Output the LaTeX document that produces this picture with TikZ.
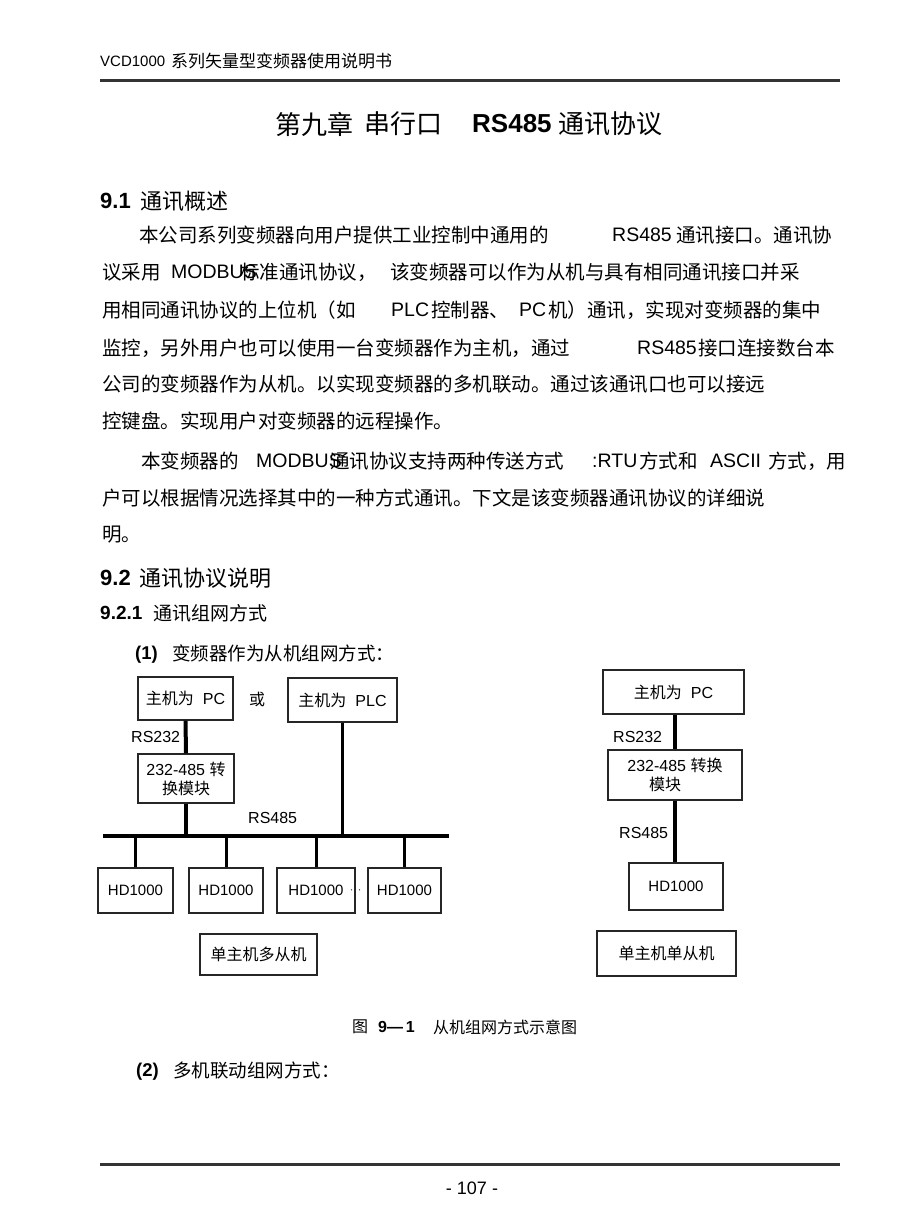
\documentclass[tikz,border=0pt]{standalone}
\usepackage{fontspec}
\setmainfont{Liberation Sans}
\newfontfamily\zh{Noto Sans CJK SC}

\newcommand\bodysize{\fontsize{19.5}{22}\selectfont}
\newcommand\boxsize{\fontsize{16}{19}\selectfont}

\begin{document}
\begin{tikzpicture}[
    x=1pt, y=-1pt,
    txt/.style={anchor=west, inner sep=0pt, font=\bodysize},
    zhtxt/.style={txt, font={\bodysize\zh}},
    box/.style={draw=black!85, line width=1.2pt, inner sep=0pt, align=center, font=\boxsize},
    hdbox/.style={box, minimum height=45pt, font=\fontsize{15}{18}\selectfont},
    thickline/.style={line width=4pt},
    thinline/.style={line width=2.5pt},
    pagerule/.style={line width=3pt, black!80}
  ]

  % Page and header
  \fill[white] (0,0) rectangle (920,1229);
  \useasboundingbox (0,0) rectangle (920,1229);
  \node[txt, font=\fontsize{15}{18}\selectfont] (hdrA) at (100,61) {VCD1000};
  \node[zhtxt, font={\fontsize{17}{18}\selectfont\zh}] (hdrB) at (171,61) {系列矢量型变频器使用说明书};
  \draw[pagerule] (100,80) -- (840,80);

  % Chapter title
  \node[zhtxt, font={\fontsize{26}{28}\selectfont\zh}] (t1) at (275,124) {第九章};
  \node[zhtxt, font={\fontsize{26}{28}\selectfont\zh}] (t2) at (364,124) {串行口};
  \node[txt, font=\fontsize{26}{28}\selectfont\bfseries] (t3) at (472,124) {RS485};
  \node[zhtxt, font={\fontsize{26}{28}\selectfont\zh}] (t4) at (558,124) {通讯协议};

  % 9.1
  \node[txt, font=\fontsize{22}{24}\selectfont\bfseries] (s1a) at (100,201) {9.1};
  \node[zhtxt, font={\fontsize{22}{24}\selectfont\zh}] (s1b) at (140,201) {通讯概述};

  \node[zhtxt] (l1a) at (139,235) {本公司系列变频器向用户提供工业控制中通用的};
  \node[txt] (l1b) at (612,235) {RS485};
  \node[zhtxt] (l1c) at (676,235) {通讯接口。通讯协};

  \node[zhtxt] (l2a) at (102,272) {议采用};
  \node[txt] (l2b) at (171,272) {MODBUS};
  \node[zhtxt] (l2c) at (240,272) {标准通讯协议，};
  \node[zhtxt] (l2d) at (390,272) {该变频器可以作为从机与具有相同通讯接口并采};

  \node[zhtxt] (l3a) at (102,310) {用相同通讯协议的上位机（如};
  \node[txt] (l3b) at (391,310) {PLC};
  \node[zhtxt] (l3c) at (431,310) {控制器、};
  \node[txt] (l3d) at (519,310) {PC};
  \node[zhtxt] (l3e) at (548,310) {机）通讯，实现对变频器的集中};

  \node[zhtxt] (l4a) at (102,348) {监控，另外用户也可以使用一台变频器作为主机，通过};
  \node[txt] (l4b) at (637,348) {RS485};
  \node[zhtxt] (l4c) at (698,348) {接口连接数台本};

  \node[zhtxt] (l5) at (102,384) {公司的变频器作为从机。以实现变频器的多机联动。通过该通讯口也可以接远};
  \node[zhtxt] (l6) at (102,421) {控键盘。实现用户对变频器的远程操作。};

  \node[zhtxt] (l7a) at (141,461) {本变频器的};
  \node[txt] (l7b) at (256,461) {MODBUS};
  \node[zhtxt] (l7c) at (330,461) {通讯协议支持两种传送方式};
  \node[txt] (l7d) at (592,461) {:RTU};
  \node[zhtxt] (l7e) at (639,461) {方式和};
  \node[txt] (l7f) at (710,461) {ASCII};
  \node[zhtxt] (l7g) at (768,461) {方式，用};

  \node[zhtxt] (l8) at (102,498) {户可以根据情况选择其中的一种方式通讯。下文是该变频器通讯协议的详细说};
  \node[zhtxt] (l9) at (102,535) {明。};

  % 9.2
  \node[txt, font=\fontsize{22}{24}\selectfont\bfseries] (s2a) at (100,578) {9.2};
  \node[zhtxt, font={\fontsize{22}{24}\selectfont\zh}] (s2b) at (139,578) {通讯协议说明};
  \node[txt, font=\fontsize{19}{21}\selectfont\bfseries] (s3a) at (100,613) {9.2.1};
  \node[zhtxt, font={\fontsize{19}{21}\selectfont\zh}] (s3b) at (153,613) {通讯组网方式};
  \node[txt, font=\fontsize{18.5}{21}\selectfont\bfseries] (p1a) at (135,655) {(1)};
  \node[zhtxt, font={\fontsize{18.5}{21}\selectfont\zh}] (p1b) at (172,653) {变频器作为从机组网方式：};

  % Left network: one master, many slaves
  \node[box, minimum width=95pt, minimum height=43pt] (pcL) at (185.5,698.5) {{\zh 主机为}\hspace{9pt}PC};
  \node[txt, font={\boxsize\zh}] (orL) at (249,699) {或};
  \node[box, minimum width=109pt, minimum height=44pt] (plc) at (342.5,700) {{\zh 主机为}\hspace{9pt}PLC};
  \node[box, minimum width=96pt, minimum height=49pt] (modL) at (186,778.5) {232-485 {\zh 转}\\{\zh 换模块}};
  \node[txt, font=\boxsize] (rs232L) at (131,737) {RS232};
  \node[txt, font=\boxsize] (rs485L) at (248,818) {RS485};

  \coordinate (busL) at (103,836);
  \coordinate (busR) at (449,836);
  \draw[thickline] (busL) -- (busR);
  \draw[thickline] (pcL.south) -- (modL.north);
  \draw[thickline] (modL.south) -- (modL.south |- busL);
  \draw[thinline] (plc.south) -- (plc.south |- busL);

  \foreach \i/\x/\w in {1/135.5/75, 2/226/74, 3/316/78, 4/404.5/73} {
    \node[hdbox, minimum width=\w pt] (hd\i) at (\x,890.5) {HD1000};
    \draw[line width=3pt] (hd\i.north) -- (hd\i.north |- busL);
  }
  \node[inner sep=0pt, font=\fontsize{12}{12}\selectfont, text=black!70] (dots) at (355.5,892) {·\hspace{4pt}·};
  \node[box, minimum width=117pt, minimum height=41pt] (multi) at (258.5,954.5) {\zh 单主机多从机};

  % Right network: one master, one slave
  \node[box, minimum width=141pt, minimum height=44pt] (pcR) at (673.5,692) {{\zh 主机为}\hspace{9pt}PC};
  \node[box, minimum width=134pt, minimum height=50pt] (modR) at (675,775) {232-485 {\zh 转换}\\\hspace*{-20pt}{\zh 模块}};
  \node[box, minimum width=94pt, minimum height=47pt, font=\fontsize{15}{18}\selectfont] (hdR) at (676,886.5) {HD1000};
  \node[box, minimum width=139pt, minimum height=45pt] (single) at (666.5,953.5) {\zh 单主机单从机};
  \node[txt, font=\boxsize] (rs232R) at (613,737) {RS232};
  \node[txt, font=\boxsize] (rs485R) at (619,833) {RS485};
  \draw[thickline] (pcR.south -| modR.north) -- (modR.north);
  \draw[thickline] (modR.south) -- (modR.south |- hdR.north);

  % Caption and next item
  \node[zhtxt, font={\fontsize{16}{18}\selectfont\zh}] (capA) at (352,1027) {图};
  \node[txt, font=\fontsize{16}{18}\selectfont\bfseries] (capB) at (378,1027) {9—\,1};
  \node[zhtxt, font={\fontsize{16}{18}\selectfont\zh}] (capC) at (433,1027) {从机组网方式示意图};
  \node[txt, font=\fontsize{18.5}{21}\selectfont\bfseries] (p2a) at (136,1072) {(2)};
  \node[zhtxt, font={\fontsize{18.5}{21}\selectfont\zh}] (p2b) at (173,1070) {多机联动组网方式：};

  % Footer
  \draw[pagerule] (100,1164) -- (840,1164);
  \node[inner sep=0pt, font=\fontsize{18}{20}\selectfont] (pg) at (472,1188) {- 107 -};
\end{tikzpicture}
\end{document}
